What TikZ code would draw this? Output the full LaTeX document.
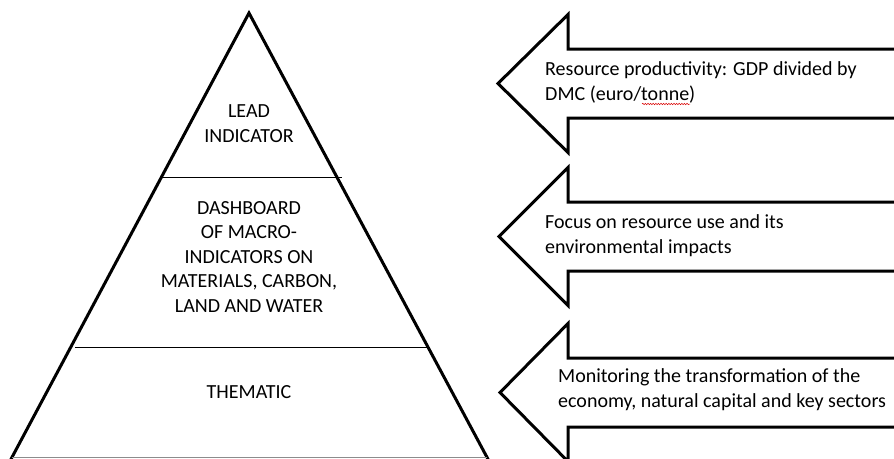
\documentclass[tikz,border=0pt]{standalone}
\usepackage{fontspec}
\setmainfont{Carlito}
\usetikzlibrary{decorations.pathmorphing}
\begin{document}
\begin{tikzpicture}[x=1pt,y=-1pt,
  outline/.style={draw=black,line width=3pt,line join=miter},
  divider/.style={draw=black,line width=0.9pt},
  tiertext/.style={align=center,inner sep=0pt,font=\fontsize{20}{24.5}\selectfont},
  arrowtext/.style={align=left,anchor=west,inner sep=0pt,font=\fontsize{20}{25}\selectfont},
  spellmark/.style={draw=red!85!black,line width=0.5pt,decorate,
    decoration={snake,amplitude=0.7pt,segment length=2.6pt}}]
\useasboundingbox (0,0) rectangle (894,458);
\begin{scope}
\clip (0,0) rectangle (894,458);

% pyramid outline and its tiers
\coordinate (apex) at (249,13);
\coordinate (bl) at (10,461);
\coordinate (br) at (489,461);
\draw[outline] (bl) -- (apex) -- (br);
\draw[draw=black!45,line width=1pt] (12,457) -- (487,457);
\coordinate (d1l) at (163,177);
\coordinate (d1r) at (342,177);
\coordinate (d2l) at (75,347);
\coordinate (d2r) at (428,347);
\draw[divider] (d1l) -- (d1r);
\draw[divider] (d2l) -- (d2r);

\node[tiertext] (lead) at (249,123.5) {LEAD\\INDICATOR};
\node[tiertext] (dash) at (249,257) {DASHBOARD\\OF MACRO-\\INDICATORS ON\\MATERIALS, CARBON,\\LAND AND WATER};
\node[tiertext] (them) at (249,392) {THEMATIC};

% block arrows pointing at the pyramid (shafts run off the right edge)
\foreach \c/\t in {83.5/498, 236.5/499, 392.5/500}{
  \draw[outline] (900,\c-34.5) -- (568,\c-34.5) -- (568,\c-69) -- (\t,\c)
    -- (568,\c+69) -- (568,\c+34.5) -- (900,\c+34.5);
}

\node[arrowtext] (a1) at (545,82.5) {Resource productivity: GDP divided by\\DMC (euro/tonne)};
\node[arrowtext] (a2) at (545,235.5) {Focus on resource use and its\\environmental impacts};
\node[arrowtext] (a3) at (558,389.5) {Monitoring the transformation of the\\economy, natural capital and key sectors};
\draw[spellmark] (642,104) -- (690,104);
\end{scope}
\end{tikzpicture}
\end{document}
